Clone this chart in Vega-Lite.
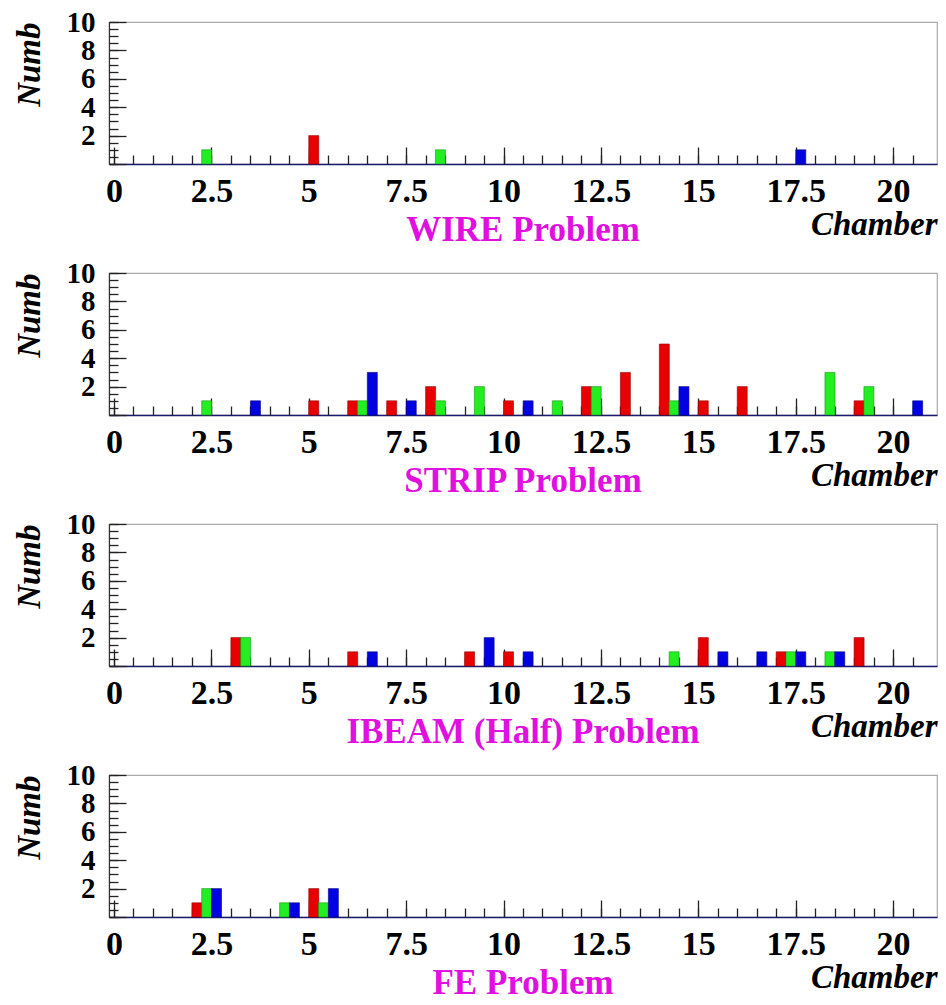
{
  "$schema": "https://vega.github.io/schema/vega-lite/v6.json",
  "background": "white",
  "padding": {"left": 12, "top": 7, "right": 2, "bottom": 0},
  "spacing": 9,
  "datasets": {
    "wire": [
      {"chamber": 2, "series": "green", "count": 1},
      {"chamber": 5, "series": "red", "count": 2},
      {"chamber": 8, "series": "green", "count": 1},
      {"chamber": 17, "series": "blue", "count": 1}
    ],
    "strip": [
      {"chamber": 2, "series": "green", "count": 1},
      {"chamber": 3, "series": "blue", "count": 1},
      {"chamber": 5, "series": "red", "count": 1},
      {"chamber": 6, "series": "red", "count": 1},
      {"chamber": 6, "series": "green", "count": 1},
      {"chamber": 6, "series": "blue", "count": 3},
      {"chamber": 7, "series": "red", "count": 1},
      {"chamber": 7, "series": "blue", "count": 1},
      {"chamber": 8, "series": "red", "count": 2},
      {"chamber": 8, "series": "green", "count": 1},
      {"chamber": 9, "series": "green", "count": 2},
      {"chamber": 10, "series": "red", "count": 1},
      {"chamber": 10, "series": "blue", "count": 1},
      {"chamber": 11, "series": "green", "count": 1},
      {"chamber": 12, "series": "red", "count": 2},
      {"chamber": 12, "series": "green", "count": 2},
      {"chamber": 13, "series": "red", "count": 3},
      {"chamber": 14, "series": "red", "count": 5},
      {"chamber": 14, "series": "green", "count": 1},
      {"chamber": 14, "series": "blue", "count": 2},
      {"chamber": 15, "series": "red", "count": 1},
      {"chamber": 16, "series": "red", "count": 2},
      {"chamber": 18, "series": "green", "count": 3},
      {"chamber": 19, "series": "red", "count": 1},
      {"chamber": 19, "series": "green", "count": 2},
      {"chamber": 20, "series": "blue", "count": 1}
    ],
    "ibeam": [
      {"chamber": 3, "series": "red", "count": 2},
      {"chamber": 3, "series": "green", "count": 2},
      {"chamber": 6, "series": "red", "count": 1},
      {"chamber": 6, "series": "blue", "count": 1},
      {"chamber": 9, "series": "red", "count": 1},
      {"chamber": 9, "series": "blue", "count": 2},
      {"chamber": 10, "series": "red", "count": 1},
      {"chamber": 10, "series": "blue", "count": 1},
      {"chamber": 14, "series": "green", "count": 1},
      {"chamber": 15, "series": "red", "count": 2},
      {"chamber": 15, "series": "blue", "count": 1},
      {"chamber": 16, "series": "blue", "count": 1},
      {"chamber": 17, "series": "red", "count": 1},
      {"chamber": 17, "series": "green", "count": 1},
      {"chamber": 17, "series": "blue", "count": 1},
      {"chamber": 18, "series": "green", "count": 1},
      {"chamber": 18, "series": "blue", "count": 1},
      {"chamber": 19, "series": "red", "count": 2}
    ],
    "fe": [
      {"chamber": 2, "series": "red", "count": 1},
      {"chamber": 2, "series": "green", "count": 2},
      {"chamber": 2, "series": "blue", "count": 2},
      {"chamber": 4, "series": "green", "count": 1},
      {"chamber": 4, "series": "blue", "count": 1},
      {"chamber": 5, "series": "red", "count": 2},
      {"chamber": 5, "series": "green", "count": 1},
      {"chamber": 5, "series": "blue", "count": 2}
    ]
  },
  "vconcat": [
    {
      "width": 828, "height": 142,
      "data": {"name": "wire"},
      "title": {"text": "WIRE Problem"},
      "layer": [
        {"transform": [{"filter": "datum.series == 'red'"}], "mark": {"type": "bar", "color": "#e80000", "width": 10, "xOffset": 5, "stroke": "#900000", "strokeWidth": 0.6},
         "encoding": {
           "x": {"field": "chamber", "type": "quantitative", "scale": {"domain": [0, 21], "nice": false, "zero": false},
                 "axis": {"orient": "bottom", "values": [0, 2.5, 5, 7.5, 10, 12.5, 15, 17.5, 20], "labelExpr": "'' + datum.value", "tickSize": -17, "title": "Chamber"}},
           "y": {"field": "count", "type": "quantitative", "scale": {"domain": [0, 10], "nice": false},
                 "axis": {"orient": "left", "values": [0, 2, 4, 6, 8, 10], "labelExpr": "datum.value == 0 ? '' : '' + datum.value", "tickSize": -17, "title": "Numb"}}
         }},
        {"transform": [{"filter": "datum.series == 'green'"}], "mark": {"type": "bar", "color": "#22ee22", "width": 10, "xOffset": 14.8, "stroke": "#119911", "strokeWidth": 0.6},
         "encoding": {"x": {"field": "chamber", "type": "quantitative", "axis": null}, "y": {"field": "count", "type": "quantitative", "axis": null}}},
        {"transform": [{"filter": "datum.series == 'blue'"}], "mark": {"type": "bar", "color": "#0000e0", "width": 10, "xOffset": 24.6, "stroke": "#000088", "strokeWidth": 0.6},
         "encoding": {"x": {"field": "chamber", "type": "quantitative", "axis": null}, "y": {"field": "count", "type": "quantitative", "axis": null}}},
        {"mark": {"type": "point", "opacity": 0},
         "encoding": {
           "x": {"field": "chamber", "type": "quantitative", "axis": {"values": [0,0.5,1,1.5,2,2.5,3,3.5,4,4.5,5,5.5,6,6.5,7,7.5,8,8.5,9,9.5,10,10.5,11,11.5,12,12.5,13,13.5,14,14.5,15,15.5,16,16.5,17,17.5,18,18.5,19,19.5,20,20.5], "labels": false, "domain": false, "tickSize": -9, "title": null, "orient": "bottom"}},
           "y": {"field": "count", "type": "quantitative", "axis": {"values": [0,0.5,1,1.5,2,2.5,3,3.5,4,4.5,5,5.5,6,6.5,7,7.5,8,8.5,9,9.5,10], "labels": false, "domain": false, "tickSize": -9, "title": null, "orient": "left"}}
         }}
      ],
      "resolve": {"axis": {"x": "independent", "y": "independent"}}
    },
    {
      "width": 828, "height": 142,
      "data": {"name": "strip"},
      "title": {"text": "STRIP Problem"},
      "layer": [
        {"transform": [{"filter": "datum.series == 'red'"}], "mark": {"type": "bar", "color": "#e80000", "width": 10, "xOffset": 5, "stroke": "#900000", "strokeWidth": 0.6},
         "encoding": {
           "x": {"field": "chamber", "type": "quantitative", "scale": {"domain": [0, 21], "nice": false, "zero": false},
                 "axis": {"orient": "bottom", "values": [0, 2.5, 5, 7.5, 10, 12.5, 15, 17.5, 20], "labelExpr": "'' + datum.value", "tickSize": -17, "title": "Chamber"}},
           "y": {"field": "count", "type": "quantitative", "scale": {"domain": [0, 10], "nice": false},
                 "axis": {"orient": "left", "values": [0, 2, 4, 6, 8, 10], "labelExpr": "datum.value == 0 ? '' : '' + datum.value", "tickSize": -17, "title": "Numb"}}
         }},
        {"transform": [{"filter": "datum.series == 'green'"}], "mark": {"type": "bar", "color": "#22ee22", "width": 10, "xOffset": 14.8, "stroke": "#119911", "strokeWidth": 0.6},
         "encoding": {"x": {"field": "chamber", "type": "quantitative", "axis": null}, "y": {"field": "count", "type": "quantitative", "axis": null}}},
        {"transform": [{"filter": "datum.series == 'blue'"}], "mark": {"type": "bar", "color": "#0000e0", "width": 10, "xOffset": 24.6, "stroke": "#000088", "strokeWidth": 0.6},
         "encoding": {"x": {"field": "chamber", "type": "quantitative", "axis": null}, "y": {"field": "count", "type": "quantitative", "axis": null}}},
        {"mark": {"type": "point", "opacity": 0},
         "encoding": {
           "x": {"field": "chamber", "type": "quantitative", "axis": {"values": [0,0.5,1,1.5,2,2.5,3,3.5,4,4.5,5,5.5,6,6.5,7,7.5,8,8.5,9,9.5,10,10.5,11,11.5,12,12.5,13,13.5,14,14.5,15,15.5,16,16.5,17,17.5,18,18.5,19,19.5,20,20.5], "labels": false, "domain": false, "tickSize": -9, "title": null, "orient": "bottom"}},
           "y": {"field": "count", "type": "quantitative", "axis": {"values": [0,0.5,1,1.5,2,2.5,3,3.5,4,4.5,5,5.5,6,6.5,7,7.5,8,8.5,9,9.5,10], "labels": false, "domain": false, "tickSize": -9, "title": null, "orient": "left"}}
         }}
      ],
      "resolve": {"axis": {"x": "independent", "y": "independent"}}
    },
    {
      "width": 828, "height": 142,
      "data": {"name": "ibeam"},
      "title": {"text": "IBEAM (Half) Problem"},
      "layer": [
        {"transform": [{"filter": "datum.series == 'red'"}], "mark": {"type": "bar", "color": "#e80000", "width": 10, "xOffset": 5, "stroke": "#900000", "strokeWidth": 0.6},
         "encoding": {
           "x": {"field": "chamber", "type": "quantitative", "scale": {"domain": [0, 21], "nice": false, "zero": false},
                 "axis": {"orient": "bottom", "values": [0, 2.5, 5, 7.5, 10, 12.5, 15, 17.5, 20], "labelExpr": "'' + datum.value", "tickSize": -17, "title": "Chamber"}},
           "y": {"field": "count", "type": "quantitative", "scale": {"domain": [0, 10], "nice": false},
                 "axis": {"orient": "left", "values": [0, 2, 4, 6, 8, 10], "labelExpr": "datum.value == 0 ? '' : '' + datum.value", "tickSize": -17, "title": "Numb"}}
         }},
        {"transform": [{"filter": "datum.series == 'green'"}], "mark": {"type": "bar", "color": "#22ee22", "width": 10, "xOffset": 14.8, "stroke": "#119911", "strokeWidth": 0.6},
         "encoding": {"x": {"field": "chamber", "type": "quantitative", "axis": null}, "y": {"field": "count", "type": "quantitative", "axis": null}}},
        {"transform": [{"filter": "datum.series == 'blue'"}], "mark": {"type": "bar", "color": "#0000e0", "width": 10, "xOffset": 24.6, "stroke": "#000088", "strokeWidth": 0.6},
         "encoding": {"x": {"field": "chamber", "type": "quantitative", "axis": null}, "y": {"field": "count", "type": "quantitative", "axis": null}}},
        {"mark": {"type": "point", "opacity": 0},
         "encoding": {
           "x": {"field": "chamber", "type": "quantitative", "axis": {"values": [0,0.5,1,1.5,2,2.5,3,3.5,4,4.5,5,5.5,6,6.5,7,7.5,8,8.5,9,9.5,10,10.5,11,11.5,12,12.5,13,13.5,14,14.5,15,15.5,16,16.5,17,17.5,18,18.5,19,19.5,20,20.5], "labels": false, "domain": false, "tickSize": -9, "title": null, "orient": "bottom"}},
           "y": {"field": "count", "type": "quantitative", "axis": {"values": [0,0.5,1,1.5,2,2.5,3,3.5,4,4.5,5,5.5,6,6.5,7,7.5,8,8.5,9,9.5,10], "labels": false, "domain": false, "tickSize": -9, "title": null, "orient": "left"}}
         }}
      ],
      "resolve": {"axis": {"x": "independent", "y": "independent"}}
    },
    {
      "width": 828, "height": 142,
      "data": {"name": "fe"},
      "title": {"text": "FE Problem"},
      "layer": [
        {"transform": [{"filter": "datum.series == 'red'"}], "mark": {"type": "bar", "color": "#e80000", "width": 10, "xOffset": 5, "stroke": "#900000", "strokeWidth": 0.6},
         "encoding": {
           "x": {"field": "chamber", "type": "quantitative", "scale": {"domain": [0, 21], "nice": false, "zero": false},
                 "axis": {"orient": "bottom", "values": [0, 2.5, 5, 7.5, 10, 12.5, 15, 17.5, 20], "labelExpr": "'' + datum.value", "tickSize": -17, "title": "Chamber"}},
           "y": {"field": "count", "type": "quantitative", "scale": {"domain": [0, 10], "nice": false},
                 "axis": {"orient": "left", "values": [0, 2, 4, 6, 8, 10], "labelExpr": "datum.value == 0 ? '' : '' + datum.value", "tickSize": -17, "title": "Numb"}}
         }},
        {"transform": [{"filter": "datum.series == 'green'"}], "mark": {"type": "bar", "color": "#22ee22", "width": 10, "xOffset": 14.8, "stroke": "#119911", "strokeWidth": 0.6},
         "encoding": {"x": {"field": "chamber", "type": "quantitative", "axis": null}, "y": {"field": "count", "type": "quantitative", "axis": null}}},
        {"transform": [{"filter": "datum.series == 'blue'"}], "mark": {"type": "bar", "color": "#0000e0", "width": 10, "xOffset": 24.6, "stroke": "#000088", "strokeWidth": 0.6},
         "encoding": {"x": {"field": "chamber", "type": "quantitative", "axis": null}, "y": {"field": "count", "type": "quantitative", "axis": null}}},
        {"mark": {"type": "point", "opacity": 0},
         "encoding": {
           "x": {"field": "chamber", "type": "quantitative", "axis": {"values": [0,0.5,1,1.5,2,2.5,3,3.5,4,4.5,5,5.5,6,6.5,7,7.5,8,8.5,9,9.5,10,10.5,11,11.5,12,12.5,13,13.5,14,14.5,15,15.5,16,16.5,17,17.5,18,18.5,19,19.5,20,20.5], "labels": false, "domain": false, "tickSize": -9, "title": null, "orient": "bottom"}},
           "y": {"field": "count", "type": "quantitative", "axis": {"values": [0,0.5,1,1.5,2,2.5,3,3.5,4,4.5,5,5.5,6,6.5,7,7.5,8,8.5,9,9.5,10], "labels": false, "domain": false, "tickSize": -9, "title": null, "orient": "left"}}
         }}
      ],
      "resolve": {"axis": {"x": "independent", "y": "independent"}}
    }
  ],
  "config": {
    "view": {"stroke": "#aaaaaa", "strokeWidth": 1.2},
    "title": {"orient": "bottom", "anchor": "middle", "font": "Liberation Serif", "fontSize": 35, "fontWeight": "bold", "color": "#e010e0", "offset": -28},
    "axis": {"grid": false, "tickColor": "#222222", "tickWidth": 1.3, "labelFont": "Liberation Serif", "labelFontWeight": "bold", "labelFontSize": 29, "labelColor": "#000000", "labelOverlap": false,
             "titleFont": "Liberation Serif", "titleFontWeight": "bold", "titleFontStyle": "italic", "titleFontSize": 33, "titleColor": "#000000"},
    "axisX": {"domainColor": "#1a1a70", "domainWidth": 1.6, "labelPadding": 27, "labelFontSize": 34, "titleAnchor": "end", "titlePadding": 0},
    "axisY": {"domainColor": "#333333", "domainWidth": 1.2, "labelPadding": 31, "titleAnchor": "end", "titlePadding": 20}
  }
}
